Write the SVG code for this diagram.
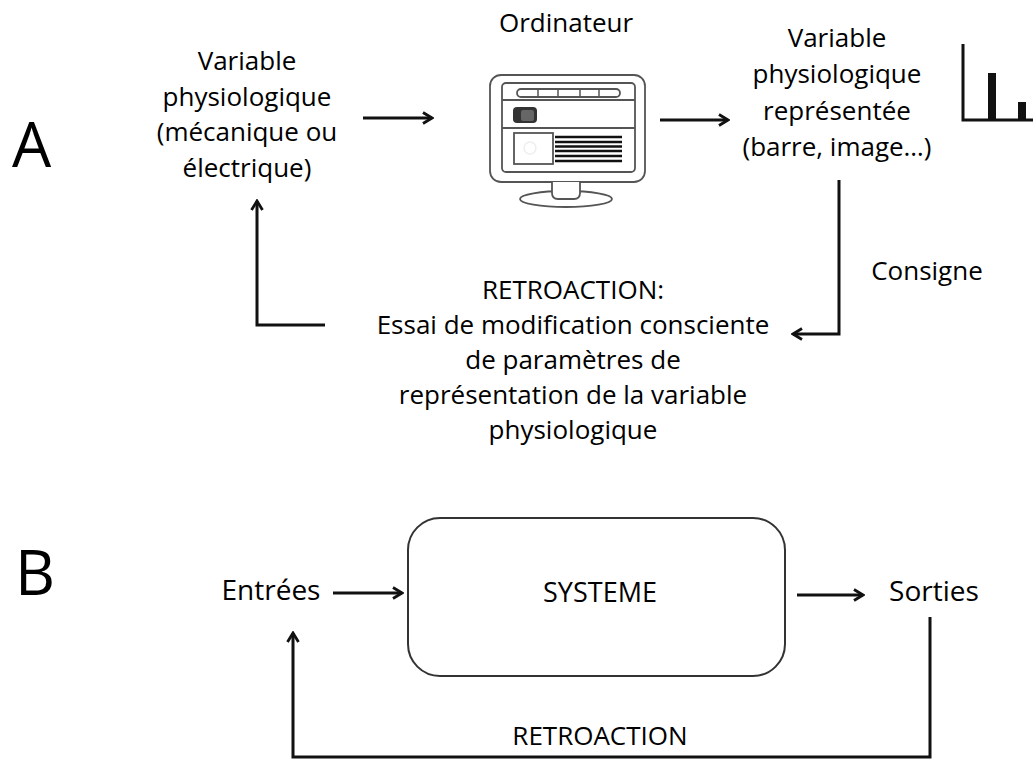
<svg xmlns="http://www.w3.org/2000/svg" width="1033" height="760" viewBox="0 0 1033 760">
<defs>
<style>
text{font-family:"Open Sans","Liberation Sans",sans-serif;fill:#000;font-weight:500;}
.t{font-size:26px;text-anchor:middle;}
.tb{font-size:28px;text-anchor:middle;}
.big{font-size:62px;font-weight:400;}
.conn{fill:none;stroke:#111;stroke-width:3;}
.ic{fill:#fff;stroke:#555;stroke-width:1.8;}
</style>
<marker id="arr" viewBox="0 0 14 14" refX="12" refY="7" markerWidth="14" markerHeight="14" markerUnits="userSpaceOnUse" orient="auto">
<path d="M3,1.5 L12,7 L3,12.5" fill="none" stroke="#111" stroke-width="2.8"/>
</marker>
</defs>
<rect width="1033" height="760" fill="#fff"/>

<text class="big" x="12" y="167">A</text>
<text class="big" x="15" y="595">B</text>

<g id="var-physio">
<text class="t" x="247" y="70">Variable</text>
<text class="t" x="247" y="105.5">physiologique</text>
<text class="t" x="247" y="141">(mécanique ou</text>
<text class="t" x="247" y="176.5">électrique)</text>
</g>

<g id="ordinateur">
<text class="t" x="566" y="32">Ordinateur</text>
<rect class="ic" x="490" y="75" width="155" height="107" rx="11"/>
<rect class="ic" x="502" y="83" width="133" height="89" rx="4"/>
<line x1="502" y1="100" x2="635" y2="100" stroke="#555" stroke-width="1.8"/>
<line x1="502" y1="128" x2="635" y2="128" stroke="#555" stroke-width="1.8"/>
<rect class="ic" x="517" y="89" width="103" height="8" rx="4"/>
<g stroke="#555" stroke-width="1.5">
<line x1="538" y1="89" x2="538" y2="97"/><line x1="558" y1="89" x2="558" y2="97"/>
<line x1="580" y1="89" x2="580" y2="97"/><line x1="599" y1="89" x2="599" y2="97"/>
</g>
<rect x="513" y="107" width="24" height="16" rx="4" fill="#333"/>
<rect x="521" y="110" width="13" height="11" rx="2" fill="#666"/>
<rect class="ic" x="514" y="133" width="39" height="31"/>
<circle cx="530" cy="148" r="6" fill="none" stroke="#eee" stroke-width="1.5"/>
<g stroke="#111" stroke-width="2.4">
<line x1="555" y1="137" x2="622" y2="137"/><line x1="555" y1="142" x2="622" y2="142"/>
<line x1="555" y1="146.5" x2="622" y2="146.5"/><line x1="555" y1="151" x2="622" y2="151"/>
<line x1="555" y1="156" x2="622" y2="156"/><line x1="555" y1="161" x2="622" y2="161"/>
</g>
<ellipse class="ic" cx="566" cy="199" rx="46" ry="8"/>
<path class="ic" d="M552,182 V193 Q552,199 558,199 H574 Q580,199 580,193 V182"/>
</g>

<g id="var-representee">
<text class="t" x="837" y="47">Variable</text>
<text class="t" x="837" y="83">physiologique</text>
<text class="t" x="837" y="120">représentée</text>
<text class="t" x="837" y="156">(barre, image…)</text>
</g>

<g id="barres">
<path d="M963,44 V120 H1033" fill="none" stroke="#111" stroke-width="3"/>
<rect x="988" y="73" width="8" height="47" fill="#111"/>
<rect x="1018" y="102" width="8" height="18" fill="#111"/>
</g>

<g id="retroaction-a">
<text class="t" x="573" y="299">RETROACTION:</text>
<text class="t" x="573" y="334">Essai de modification consciente</text>
<text class="t" x="573" y="369">de paramètres de</text>
<text class="t" x="573" y="404">représentation de la variable</text>
<text class="t" x="573" y="439">physiologique</text>
</g>

<g id="consigne">
<text class="t" x="927" y="280">Consigne</text>
</g>

<g id="entrees"><text class="tb" x="271" y="600">Entrées</text></g>
<g id="systeme">
<rect x="408" y="518" width="377" height="158" rx="32" fill="#fff" stroke="#333" stroke-width="2"/>
<text class="tb" x="600" y="602" style="font-size:27px">SYSTEME</text>
</g>
<g id="sorties"><text class="tb" x="934" y="601">Sorties</text></g>
<g id="retroaction-b"><text class="t" x="600" y="745">RETROACTION</text></g>

<g id="connectors">
<line class="conn" x1="363" y1="118" x2="432" y2="118" marker-end="url(#arr)"/>
<line class="conn" x1="660" y1="120" x2="728" y2="120" marker-end="url(#arr)"/>
<path class="conn" d="M839,180 V334 H793" marker-end="url(#arr)"/>
<path class="conn" d="M325,325 H257 V201" marker-end="url(#arr)"/>
<line class="conn" x1="333" y1="593" x2="402" y2="593" marker-end="url(#arr)"/>
<line class="conn" x1="797" y1="595" x2="863" y2="595" marker-end="url(#arr)"/>
<path class="conn" d="M930,617 V757 H293 V633" marker-end="url(#arr)"/>
</g>
</svg>
